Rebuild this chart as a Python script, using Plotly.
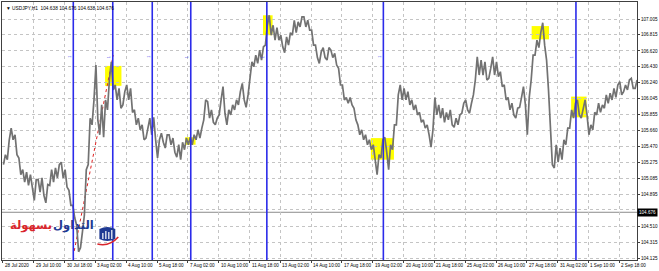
import plotly.graph_objects as go

# ---- data (USDJPY H1, aggregated read-off in 4-hour buckets) ----
lows = [105.25, 105.31, 105.55, 105.37, 105.13, 105.04, 105.00, 105.00, 104.82, 104.92,
        104.88, 104.79, 105.00, 105.04, 105.09, 105.09, 104.98, 104.76, 104.61, 104.20,
        104.25, 104.64, 105.25, 105.73, 105.79, 105.61, 105.58, 105.91, 106.15, 106.03,
        105.93, 105.97, 106.03, 105.88, 105.73, 105.67, 105.55, 105.57, 105.61, 105.55,
        105.33, 105.52, 105.45, 105.49, 105.40, 105.34, 105.31, 105.43, 105.49, 105.49,
        105.55, 105.57, 105.79, 105.81, 105.76, 105.73, 105.85, 105.87, 105.73, 105.85,
        105.91, 105.97, 106.03, 105.94, 106.27, 106.43, 106.47, 106.51, 106.69, 106.81,
        106.75, 106.75, 106.67, 106.60, 106.69, 106.81, 106.84, 106.91, 106.91, 106.87,
        106.69, 106.54, 106.47, 106.54, 106.51, 106.54, 106.45, 106.21, 106.03, 105.99,
        105.97, 105.79, 105.61, 105.55, 105.49, 105.43, 105.31, 105.13, 105.33, 105.40,
        105.19, 105.43, 105.73, 106.03, 106.03, 105.97, 105.91, 105.85, 105.76, 105.69,
        105.61, 105.46, 105.85, 105.81, 105.76, 105.79, 105.73, 105.70, 105.73, 105.87,
        105.91, 105.87, 106.09, 106.33, 106.33, 106.27, 106.29, 106.33, 106.31, 106.19,
        106.03, 105.91, 105.85, 105.81, 105.94, 105.97, 105.61, 106.27, 106.57, 106.66,
        106.69, 106.15, 105.25, 105.21, 105.28, 105.31, 105.49, 105.69, 105.81, 105.85,
        105.81, 105.85, 105.61, 105.67, 105.85, 105.88, 105.93, 105.99, 106.03, 106.06,
        106.09, 106.13, 106.15, 106.17, 106.17]
highs = [105.37, 105.55, 105.69, 105.61, 105.33, 105.19, 105.16, 105.13, 105.07, 105.07,
         105.09, 105.01, 105.19, 105.21, 105.25, 105.28, 105.19, 104.94, 104.76, 104.52,
         104.44, 105.19, 105.81, 106.03, 106.45, 105.97, 106.03, 106.27, 106.49, 106.21,
         106.17, 106.13, 106.21, 106.17, 105.91, 105.81, 105.73, 105.69, 105.81, 105.82,
         105.55, 105.63, 105.61, 105.61, 105.57, 105.49, 105.52, 105.57, 105.58, 105.61,
         105.67, 105.69, 106.03, 106.01, 105.91, 105.81, 106.03, 106.19, 105.91, 105.97,
         106.03, 106.13, 106.23, 106.09, 106.49, 106.57, 106.63, 106.67, 106.93, 107.05,
         106.93, 106.90, 106.81, 106.79, 106.84, 106.99, 106.97, 107.03, 107.03, 106.99,
         106.87, 106.69, 106.61, 106.66, 106.66, 106.63, 106.59, 106.41, 106.21, 106.06,
         106.06, 105.93, 105.73, 105.67, 105.61, 105.55, 105.49, 105.37, 105.55, 105.58,
         105.49, 105.73, 106.09, 106.21, 106.17, 106.13, 106.03, 105.97, 105.88, 105.79,
         105.73, 105.67, 106.06, 105.97, 105.93, 105.88, 105.91, 105.81, 105.85, 105.99,
         106.03, 105.99, 106.27, 106.55, 106.51, 106.49, 106.41, 106.55, 106.49, 106.37,
         106.21, 106.06, 105.99, 105.93, 106.06, 106.19, 106.06, 106.57, 106.75, 106.84,
         106.96, 106.51, 105.73, 105.49, 105.45, 105.55, 105.69, 105.91, 105.99, 106.03,
         105.93, 106.03, 105.73, 105.88, 105.99, 105.97, 106.09, 106.11, 106.17, 106.21,
         106.25, 106.21, 106.27, 106.29, 106.27]
bucket_size = 4  # hours per bucket

x_tick_bars = [0, 32, 64, 96, 128, 160, 192, 224, 256, 288, 320, 352, 384, 416, 448,
               480, 512, 544, 576, 608, 640]
x_tick_labels = ["28 Jul 2020", "29 Jul 10:00", "30 Jul 18:00", "3 Aug 02:00", "4 Aug 10:00",
                 "5 Aug 18:00", "7 Aug 02:00", "10 Aug 10:00", "11 Aug 18:00", "13 Aug 02:00",
                 "14 Aug 10:00", "17 Aug 18:00", "19 Aug 02:00", "20 Aug 10:00", "21 Aug 18:00",
                 "25 Aug 02:00", "26 Aug 10:00", "27 Aug 18:00", "31 Aug 02:00", "1 Sep 10:00",
                 "2 Sep 18:00"]
y_ticks = [107.005, 106.815, 106.620, 106.430, 106.240, 106.045, 105.855, 105.660,
           105.470, 105.275, 105.085, 104.895, 104.705, 104.510, 104.315, 104.125]
y_tick_labels = ["107.005", "106.815", "106.620", "106.430", "106.240", "106.045", "105.855",
                 "105.660", "105.470", "105.275", "105.085", "104.895", "", "104.510",
                 "104.315", "104.125"]
bid_price = 104.676
vline_bars = [73, 114, 155, 195, 274, 395, 595]
box_x0 = [106, 189, 270, 382, 549, 590]
box_x1 = [123, 200, 280, 406, 567, 606]
box_p0 = [106.20, 105.49, 106.81, 105.31, 106.76, 105.82]
box_p1 = [106.44, 105.58, 107.05, 105.57, 106.92, 106.07]
trend_bars = [74, 114.5]
trend_prices = [104.21, 106.57]
header = "▼ USDJPY,H1  104.638 104.676 104.638 104.676"

X_RANGE = [-1.03, 658.4]
Y_RANGE = [104.101, 107.210]

# ---- price path (zig-zag through each bucket's low/high) ----
xs, ys = [], []
n = len(lows)
for k in range(n):
    lo, hi = lows[k], highs[k]
    mid = (lo + hi) / 2
    nxt = (lows[k + 1] + highs[k + 1]) / 2 if k + 1 < n else mid
    a, b = (lo, hi) if nxt >= mid else (hi, lo)
    xs += [k * bucket_size + 0.5, k * bucket_size + 2.5]
    ys += [a, b]

fig = go.Figure()

# trend line (red dotted)
fig.add_trace(go.Scatter(x=trend_bars, y=trend_prices, mode="lines",
                         line=dict(color="#e02020", width=1, dash="dot"),
                         hoverinfo="skip", showlegend=False))

fig.add_trace(go.Scatter(x=xs, y=ys, mode="lines",
                         line=dict(color="#727272", width=1.7),
                         hoverinfo="skip", showlegend=False))

shapes = []
# yellow boxes
for x0, x1, p0, p1 in zip(box_x0, box_x1, box_p0, box_p1):
    shapes.append(dict(type="rect", xref="x", yref="y", x0=x0, x1=x1, y0=p0, y1=p1,
                       fillcolor="#ffff00", line=dict(width=0), layer="below"))
# bid line
shapes.append(dict(type="line", xref="paper", yref="y", x0=0, x1=1, y0=bid_price, y1=bid_price,
                   line=dict(color="#8c8c8c", width=1), layer="below"))
# blue vertical lines
for b in vline_bars:
    shapes.append(dict(type="line", xref="x", yref="paper", x0=b, x1=b, y0=0, y1=1,
                       line=dict(color="#2b2bea", width=1.6), layer="above"))

# logo icon (pixel -> paper helpers)
PL, PR, PT, PB = 1, 640, 2, 260
def px(x):
    return (x - PL) / (PR - PL)
def py(y):
    return (PB - y) / (PB - PT)

shapes.append(dict(type="path", xref="paper", yref="paper",
                   path=(f"M {px(99)},{py(229)} Q {px(107)},{py(225)} {px(115)},{py(229)} "
                         f"L {px(115)},{py(239)} Q {px(107)},{py(243)} {px(99)},{py(239)} Z"),
                   fillcolor="#1f3a93", line=dict(width=0)))
for bx, top in [(102.5, 233), (105.5, 231), (108.5, 232), (111.5, 230)]:
    shapes.append(dict(type="line", xref="paper", yref="paper",
                       x0=px(bx), x1=px(bx), y0=py(top), y1=py(239),
                       line=dict(color="white", width=1.2)))
shapes.append(dict(type="path", xref="paper", yref="paper",
                   path=f"M {px(97)},{py(244)} Q {px(109)},{py(247)} {px(118)},{py(237)}",
                   line=dict(color="#d9262c", width=1.6)))

annotations = []
for b, t in zip(x_tick_bars, x_tick_labels):
    annotations.append(dict(x=b, xref="x", y=0, yref="paper", text=t, showarrow=False,
                            xanchor="left", yanchor="top", xshift=0, yshift=-1,
                            font=dict(size=4.6, color="#000000", family="Liberation Sans")))
annotations.append(dict(x=0, xref="paper", y=1, yref="paper", text=header, showarrow=False,
                        xanchor="left", yanchor="top", xshift=2, yshift=-2,
                        font=dict(size=4.8, color="#000000", family="Liberation Sans")))
annotations.append(dict(x=1, xref="paper", y=bid_price, yref="y", text="104.676",
                        showarrow=False, xanchor="left", yanchor="middle", xshift=0,
                        bgcolor="#000000", borderpad=1,
                        font=dict(size=4.6, color="#ffffff", family="Liberation Sans")))
for b in vline_bars:
    annotations.append(dict(x=b, xref="x", y=py(53), yref="paper", text="1",
                            showarrow=False, textangle=-90, xshift=-4,
                            font=dict(size=4, color="#2b2bea", family="Liberation Sans")))
annotations.append(dict(x=px(53), xref="paper", y=py(235), yref="paper", text="<b>بسهولة</b>",
                        showarrow=False, xanchor="right",
                        font=dict(size=11.5, color="#d9262c", family="DejaVu Sans")))
annotations.append(dict(x=px(96), xref="paper", y=py(235), yref="paper", text="<b>التداول</b>",
                        showarrow=False, xanchor="right",
                        font=dict(size=11.5, color="#1f3a93", family="DejaVu Sans")))

fig.update_layout(
    width=659, height=271,
    margin=dict(l=PL, r=659 - PR, t=PT, b=271 - PB),
    paper_bgcolor="white", plot_bgcolor="white",
    shapes=shapes, annotations=annotations,
    showlegend=False,
    xaxis=dict(range=X_RANGE, tickvals=x_tick_bars, showticklabels=False,
               ticks="outside", ticklen=2, tickcolor="#404040",
               showgrid=True, gridcolor="#c4c4c4", griddash="dot", gridwidth=1,
               showline=True, mirror=True, linecolor="#404040", linewidth=1,
               zeroline=False, fixedrange=True),
    yaxis=dict(range=Y_RANGE, side="right", tickvals=y_ticks, ticktext=y_tick_labels,
               tickfont=dict(size=4.6, color="#000000", family="Liberation Sans"),
               ticks="outside", ticklen=2, tickcolor="#404040",
               showgrid=True, gridcolor="#c4c4c4", griddash="dot", gridwidth=1,
               showline=True, mirror=True, linecolor="#404040", linewidth=1,
               zeroline=False, fixedrange=True),
)

fig.write_html("out.html")
